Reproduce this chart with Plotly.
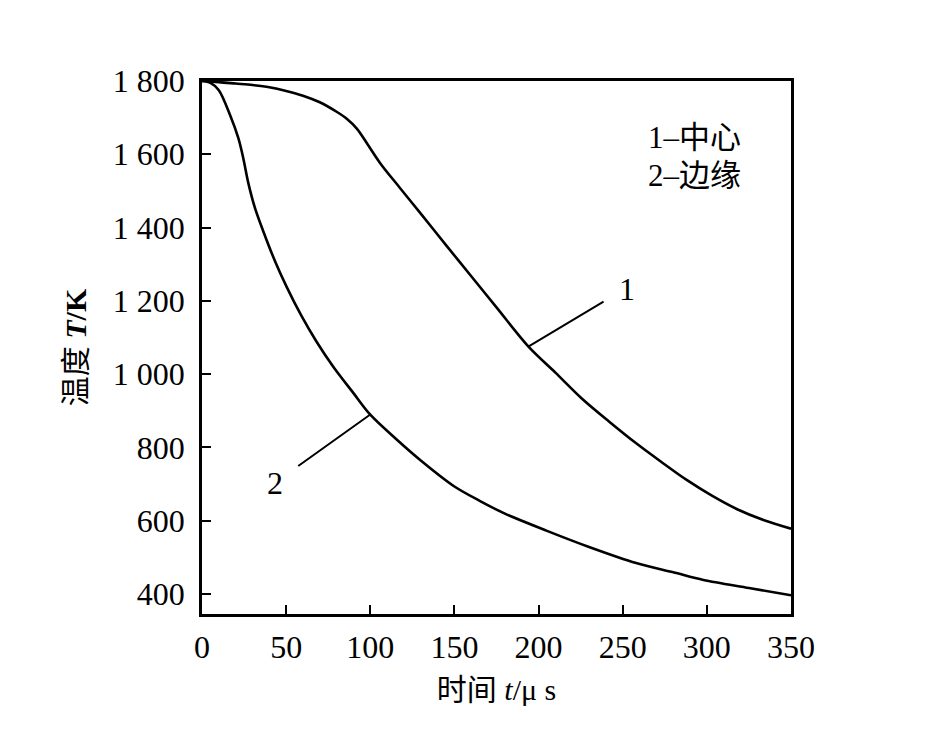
import plotly.graph_objects as go

# ---- data ----
t_center = [0, 10, 20, 30, 40, 50, 60, 70, 80, 86, 92, 98, 106, 118, 130, 145, 160, 175,
            194, 210, 226, 242, 258, 273, 288, 303, 318, 334, 350]
T_center = [1800, 1797, 1793, 1789, 1783, 1773, 1760, 1742, 1716, 1697, 1670, 1630, 1575,
            1506, 1438, 1352, 1267, 1182, 1075, 1004, 932, 870, 811, 760, 711, 668, 631, 601, 578]

t_edge = [0, 5, 10, 16.6, 21.6, 24.5, 27.5, 31.5, 36.4, 43.4, 50.3, 59.2, 68, 78, 90, 100,
          115, 130, 150, 165, 180, 205, 230, 258, 280, 298, 325, 350]
T_edge = [1800, 1795, 1775, 1708, 1644, 1590, 1522, 1453, 1390, 1308, 1238, 1158, 1089, 1020,
          948, 889, 824, 764, 693, 654, 619, 572, 528, 484, 459, 438, 416, 396]

x_ticks = [0, 50, 100, 150, 200, 250, 300, 350]
y_ticks = [400, 600, 800, 1000, 1200, 1400, 1600, 1800]
y_tick_text = ["400", "600", "800", "1 000", "1 200", "1 400", "1 600", "1 800"]

legend_lines = ["1–中心", "2–边缘"]
curve_labels = ["1", "2"]

SERIF = "Liberation Serif, Times New Roman, serif"
CJK = "Noto Sans CJK SC"

fig = go.Figure()
for tx, ty in [(t_center, T_center), (t_edge, T_edge)]:
    fig.add_trace(go.Scatter(x=tx, y=ty, mode="lines",
                             line=dict(color="black", width=2.6, shape="spline", smoothing=0.9),
                             showlegend=False, hoverinfo="skip"))

# pointer lines with labels (data coordinates)
fig.add_annotation(x=193.9, y=1075, ax=239.5, ay=1200, axref="x", ayref="y",
                   showarrow=True, arrowhead=0, arrowwidth=2, arrowcolor="black", text="")
fig.add_annotation(x=252.5, y=1232, text=curve_labels[0], showarrow=False,
                   font=dict(family=SERIF, size=32, color="black"))
fig.add_annotation(x=99.8, y=889, ax=56.3, ay=746, axref="x", ayref="y",
                   showarrow=True, arrowhead=0, arrowwidth=2, arrowcolor="black", text="")
fig.add_annotation(x=43.4, y=703, text=curve_labels[1], showarrow=False,
                   font=dict(family=SERIF, size=32, color="black"))

# key text
fig.add_annotation(x=264, y=1647, text=legend_lines[0], showarrow=False, xanchor="left",
                   font=dict(family=SERIF + ", " + CJK, size=31, color="black"))
fig.add_annotation(x=264, y=1543, text=legend_lines[1], showarrow=False, xanchor="left",
                   font=dict(family=SERIF + ", " + CJK, size=31, color="black"))

axis_common = dict(showline=True, linecolor="black", linewidth=2.5, mirror=True,
                   ticks="inside", ticklen=9, tickwidth=2, tickcolor="black",
                   showgrid=False, zeroline=False,
                   tickfont=dict(family=SERIF, size=32, color="black"))

fig.update_xaxes(range=[0, 350], tickvals=x_ticks, ticktext=[str(v) for v in x_ticks],
                 title=dict(text="<span style='font-family:Noto Sans CJK SC'>时间</span> <i>t</i>/μ s",
                            font=dict(family=SERIF, size=30, color="black"), standoff=14),
                 ticklabelstandoff=3, **axis_common)
fig.update_yaxes(range=[345, 1800], tickvals=y_ticks, ticktext=y_tick_text,
                 title=dict(text="<span style='font-family:Noto Sans CJK SC'>温度</span> <b><i>T</i>/K</b>",
                            font=dict(family=SERIF, size=30, color="black"), standoff=18),
                 ticklabelstandoff=8, **axis_common)

fig.update_layout(width=940, height=754, paper_bgcolor="white", plot_bgcolor="white",
                  margin=dict(l=202, r=149, t=81, b=140), showlegend=False)

fig.write_html("out.html")
